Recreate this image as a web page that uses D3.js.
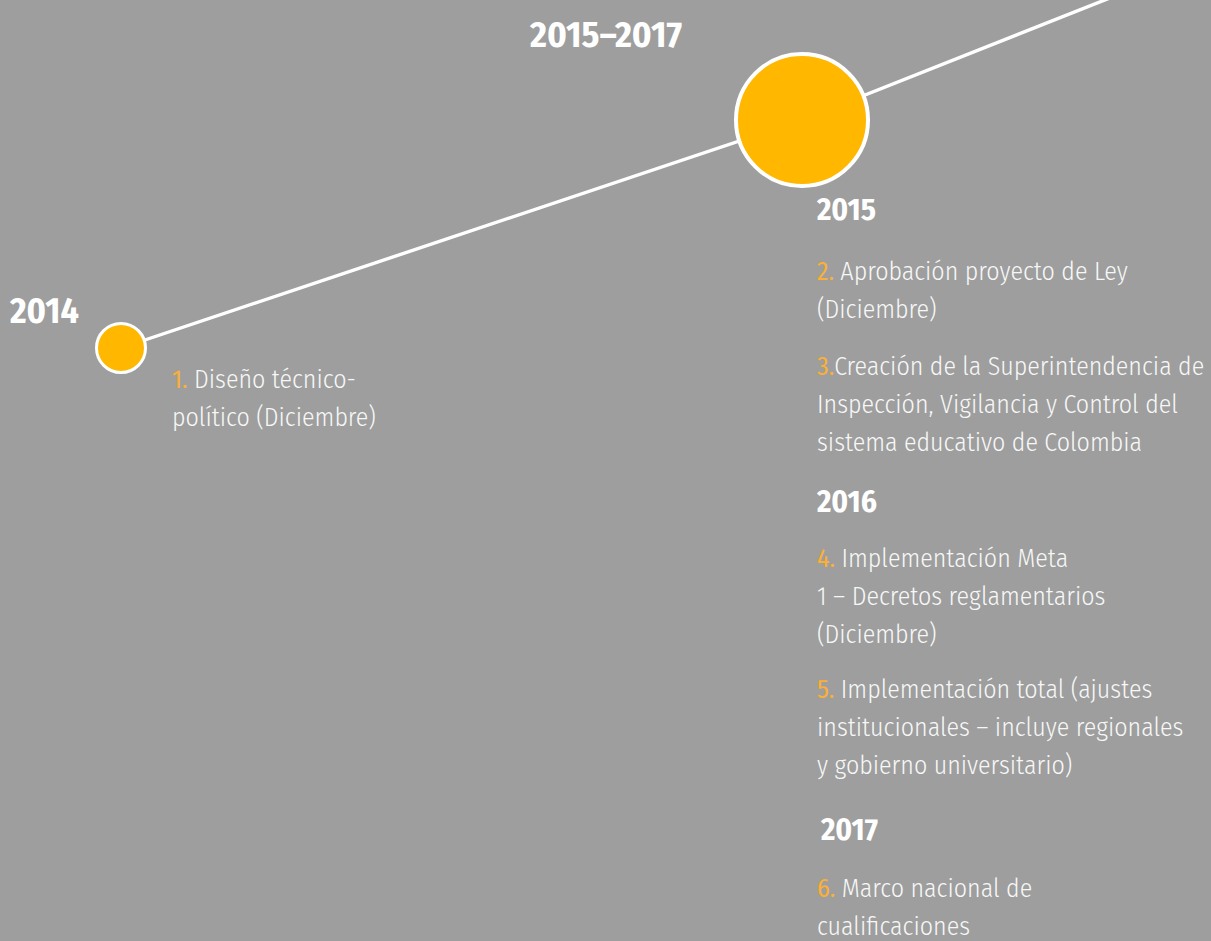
<!DOCTYPE html>
<html>
<head>
<meta charset="utf-8">
<script src="https://cdn.jsdelivr.net/npm/d3@7/dist/d3.min.js"></script>
<style>
  html, body { margin: 0; padding: 0; background: #9d9e9d; overflow: hidden; }
  svg { display: block; }
  .body-text { font-family: "Fira Sans Condensed", "Liberation Sans Narrow", "DejaVu Sans Condensed", "Noto Sans", sans-serif; font-stretch: condensed; font-weight: 300; fill: #f7f7f7; }
  .bold-text { font-family: "Fira Sans Condensed", "Liberation Sans Narrow", "DejaVu Sans Condensed", "Noto Sans", sans-serif; font-stretch: condensed; font-weight: 700; fill: #ffffff; }
</style>
</head>
<body>
<svg id="chart" width="1211" height="941"></svg>
<script>
// ---------------- DATA ----------------
const periodTitle = "2015–2017";
const timelineYears = [2014, 2015, 2016];          // path knots of the timeline
const nodeYears = [2014, 2015];                    // circles drawn on the timeline
const nodeLabels = ["2014", "2015–2017"];
const yearHeadings = ["2015", "2016", "2017"];
const milestoneNumbers = ["1.", "2.", "3.", "4.", "5.", "6."];
const milestoneGroups = ["2014", "2015", "2015", "2016", "2016", "2017"];
const milestoneLines = [
  ["Diseño técnico-", "político (Diciembre)"],
  ["Aprobación proyecto de Ley", "(Diciembre)"],
  ["Creación de la Superintendencia de", "Inspección, Vigilancia y Control del", "sistema educativo de Colombia"],
  ["Implementación Meta", "1 – Decretos reglamentarios", "(Diciembre)"],
  ["Implementación total (ajustes", "institucionales – incluye regionales", "y gobierno universitario)"],
  ["Marco nacional de", "cualificaciones"]
];

// ---------------- LAYOUT ----------------
const W = 1211, H = 941;
const svg = d3.select("#chart");
svg.append("rect").attr("width", W).attr("height", H).attr("fill", "#9d9e9d");

const x = d3.scaleLinear().domain(timelineYears).range([121, 802, 1130]);
const y = d3.scaleLinear().domain(timelineYears).range([348, 120, -10]);
const radius = d3.scaleOrdinal().domain(nodeYears).range([24.5, 66]);
const ringWidth = d3.scaleOrdinal().domain(nodeYears).range([3, 4]);

const orange = "#ffb700";
const numOrange = "#fbb035";

// timeline line
svg.append("path")
  .datum(timelineYears)
  .attr("d", d3.line().x(d => x(d)).y(d => y(d)))
  .attr("fill", "none")
  .attr("stroke", "#ffffff")
  .attr("stroke-width", 3.4);

// nodes
svg.selectAll("circle.node")
  .data(nodeYears)
  .join("circle")
  .attr("class", "node")
  .attr("cx", d => x(d))
  .attr("cy", d => y(d))
  .attr("r", d => radius(d))
  .attr("fill", orange)
  .attr("stroke", "#ffffff")
  .attr("stroke-width", d => ringWidth(d));

// ---- font fitting (adapt to whatever condensed face is installed) ----
function measure(cls, size, str) {
  const t = svg.append("text").attr("class", cls).attr("font-size", size).text(str);
  const w = t.node().getComputedTextLength();
  t.remove();
  return w;
}
const bodySize = 28 * 204 / measure("body-text", 28, "político (Diciembre)");
const titleSize = 38 * 152 / measure("bold-text", 38, periodTitle);
const yearSize = 34 * 59 / measure("bold-text", 34, "2015");

// title
svg.append("text").attr("class", "bold-text")
  .attr("x", 606).attr("y", 47)
  .attr("text-anchor", "middle")
  .attr("font-size", titleSize)
  .text(periodTitle);

// 2014 label near the small node
svg.append("text").attr("class", "bold-text")
  .attr("x", 10).attr("y", 323)
  .attr("font-size", titleSize * 0.98)
  .text(nodeLabels[0]);

// year headings in the right column
const headingPos = {
  "2015": { x: 817, y: 220 },
  "2016": { x: 817, y: 512 },
  "2017": { x: 821, y: 840 }
};
svg.selectAll("text.heading")
  .data(yearHeadings)
  .join("text")
  .attr("class", "bold-text heading")
  .attr("x", d => headingPos[d].x)
  .attr("y", d => headingPos[d].y)
  .attr("font-size", yearSize)
  .text(d => d);

// milestone blocks
const blockStart = [
  { x: 172, y: 388 },
  { x: 817, y: 280 },
  { x: 817, y: 375 },
  { x: 817, y: 567 },
  { x: 817, y: 698 },
  { x: 817, y: 897 }
];
const lineGap = 38;
const numberSpace = [true, true, false, true, true, true];

const blocks = svg.selectAll("g.block")
  .data(milestoneLines.map((lines, i) => ({ lines, i })))
  .join("g")
  .attr("class", "block");

blocks.each(function (d) {
  const g = d3.select(this);
  const pos = blockStart[d.i];
  d.lines.forEach((ln, k) => {
    const t = g.append("text").attr("class", "body-text")
      .attr("x", pos.x).attr("y", pos.y + k * lineGap)
      .attr("font-size", bodySize);
    if (k === 0) {
      t.append("tspan").attr("fill", numOrange).attr("font-weight", 400).text(milestoneNumbers[d.i]);
      t.append("tspan").text((numberSpace[d.i] ? " " : "") + ln);
    } else {
      t.text(ln);
    }
  });
});
</script>
</body>
</html>
